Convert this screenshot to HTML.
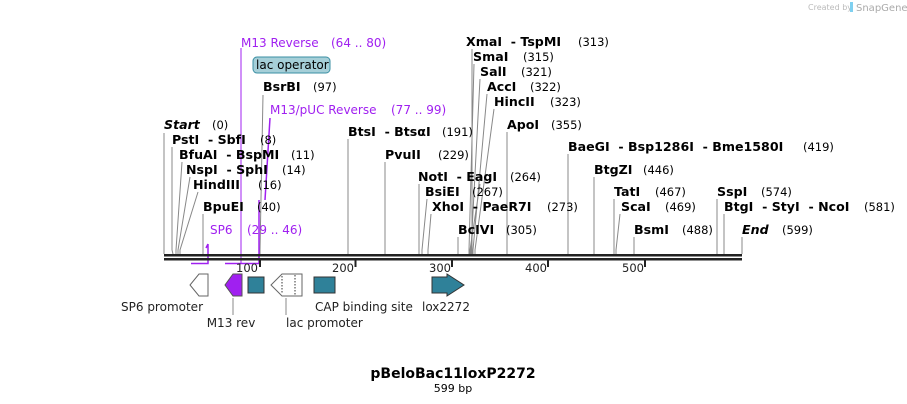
<!DOCTYPE html>
<html><head><meta charset="utf-8"><style>
html,body{margin:0;padding:0;background:#fff;}
svg{display:block;font-family:"DejaVu Sans",Verdana,sans-serif;}
text{white-space:pre}
.e{font-weight:bold;font-size:12.6px;fill:#000}
.n{font-size:11.5px;fill:#000}
.p{font-size:12px;fill:#a020f0}
.l{stroke:#888;stroke-width:1;fill:none}
.f{font-size:12px;fill:#222}
</style></head><body>
<svg width="907" height="404" viewBox="0 0 907 404" xml:space="preserve">
<text x="808" y="10" font-size="8" fill="#bbb">Created by</text>
<rect x="850" y="2" width="3" height="10" fill="#7fd0f0"/>
<text x="856" y="11" font-size="10" fill="#aaa">SnapGene</text>

<path class="l" d="M164 133V254 M172 147V250L173 254 M182 162L176 250V254 M190 177L178 250V254 M198 192L180 250V254 M203 214V254 M348 139V254 M385 162V254 M419 184V254 M427 199L422 250V254 M431 214L428 250V254 M458 237V254"/>
<path class="l" d="M263 95L260 250V254 M472 49V254 M474 64L469 250V254 M480 79L471 250V254 M487 94L473 250V254 M494 109L475 250V254 M480 184L470 250V254 M507 132V254 M568 154V254 M594 177V254 M614 199V254 M620 214L616 250V254 M634 237V254 M717 199V254 M724 214V254 M742 237V254"/>
<path d="M191 263.5H208V244 M225 263.5H259V200 M270 118L265 200 M208 244L206 248" stroke="#a020f0" stroke-width="1.5" fill="none"/>
<path d="M241 48V263" stroke="#a020f0" stroke-width="1"/>

<text x="241" y="47" class="p">M13 Reverse</text><text x="331" y="47" class="p">(64 .. 80)</text>
<rect x="253" y="57" width="77" height="16" rx="4" fill="#a6cfd8" stroke="#3b8fa3"/>
<text x="256" y="69" font-size="12">lac operator</text>
<text x="263" y="91" class="e">BsrBI</text><text x="313" y="91" class="n">(97)</text>
<text x="270" y="114" class="p">M13/pUC Reverse</text><text x="391" y="114" class="p">(77 .. 99)</text>
<text x="164" y="129" class="e" font-style="italic">Start</text><text x="212" y="129" class="n">(0)</text>
<text x="172" y="144" class="e">PstI  - SbfI</text><text x="260" y="144" class="n">(8)</text>
<text x="179" y="159" class="e">BfuAI  - BspMI</text><text x="291" y="159" class="n">(11)</text>
<text x="186" y="174" class="e">NspI  - SphI</text><text x="282" y="174" class="n">(14)</text>
<text x="193" y="189" class="e">HindIII</text><text x="258" y="189" class="n">(16)</text>
<text x="203" y="211" class="e">BpuEI</text><text x="257" y="211" class="n">(40)</text>
<text x="210" y="234" class="p">SP6</text><text x="247" y="234" class="p">(29 .. 46)</text>
<text x="348" y="136" class="e">BtsI  - BtsαI</text><text x="442" y="136" class="n">(191)</text>
<text x="385" y="159" class="e">PvuII</text><text x="438" y="159" class="n">(229)</text>
<text x="418" y="181" class="e">NotI  - EagI</text><text x="510" y="181" class="n">(264)</text>
<text x="425" y="196" class="e">BsiEI</text><text x="472" y="196" class="n">(267)</text>
<text x="432" y="211" class="e">XhoI  - PaeR7I</text><text x="547" y="211" class="n">(273)</text>
<text x="458" y="234" class="e">BcIVI</text><text x="506" y="234" class="n">(305)</text>
<text x="466" y="46" class="e">XmaI  - TspMI</text><text x="578" y="46" class="n">(313)</text>
<text x="473" y="61" class="e">SmaI</text><text x="523" y="61" class="n">(315)</text>
<text x="480" y="76" class="e">SalI</text><text x="521" y="76" class="n">(321)</text>
<text x="487" y="91" class="e">AccI</text><text x="530" y="91" class="n">(322)</text>
<text x="494" y="106" class="e">HincII</text><text x="550" y="106" class="n">(323)</text>
<text x="507" y="129" class="e">ApoI</text><text x="551" y="129" class="n">(355)</text>
<text x="568" y="151" class="e">BaeGI  - Bsp1286I  - Bme1580I</text><text x="803" y="151" class="n">(419)</text>
<text x="594" y="174" class="e">BtgZI</text><text x="643" y="174" class="n">(446)</text>
<text x="614" y="196" class="e">TatI</text><text x="655" y="196" class="n">(467)</text>
<text x="621" y="211" class="e">ScaI</text><text x="665" y="211" class="n">(469)</text>
<text x="634" y="234" class="e">BsmI</text><text x="682" y="234" class="n">(488)</text>
<text x="717" y="196" class="e">SspI</text><text x="761" y="196" class="n">(574)</text>
<text x="724" y="211" class="e">BtgI  - StyI  - NcoI</text><text x="864" y="211" class="n">(581)</text>
<text x="742" y="234" class="e" font-style="italic">End</text><text x="782" y="234" class="n">(599)</text>

<rect x="164" y="254" width="578" height="2.5" fill="#222"/>
<rect x="164" y="258" width="578" height="2.5" fill="#222"/>
<path d="M260 260V267 M355.5 260V267 M452 260V267 M548 260V267 M645 260V267" stroke="#222" stroke-width="2"/>
<g font-size="11.5" fill="#222" text-anchor="end">
<text x="258" y="272">100</text><text x="354" y="272">200</text><text x="451" y="272">300</text><text x="547" y="272">400</text><text x="644" y="272">500</text>
</g>

<path d="M208 274V296H199L190 285L199 274Z" fill="#fff" stroke="#666"/>
<path d="M242 274V296H233L225 285L233 274Z" fill="#a020f0" stroke="#555"/>
<rect x="248" y="277" width="16" height="16" fill="#2f8199" stroke="#333"/>
<path d="M302 274V296H282L271 285L282 274Z" fill="#fff" stroke="#666"/>
<path d="M282 276V294 M295 275V295" stroke="#333" stroke-dasharray="1.5,1.5"/>
<rect x="314" y="277" width="21" height="16" fill="#2f8199" stroke="#333"/>
<path d="M432 277H447V274L464 285L447 296V293H432Z" fill="#2f8199" stroke="#333"/>
<path d="M233 298V315 M286 298V315" stroke="#888"/>
<g class="f" font-size="12">
<text x="203" y="311" text-anchor="end">SP6 promoter</text>
<text x="231" y="327" text-anchor="middle">M13 rev</text>
<text x="286" y="327">lac promoter</text>
<text x="315" y="311">CAP binding site</text>
<text x="422" y="311">lox2272</text>
</g>
<text x="453" y="378" text-anchor="middle" font-weight="bold" font-size="14">pBeloBac11loxP2272</text>
<text x="453" y="392" text-anchor="middle" font-size="11">599 bp</text>
</svg>
</body></html>
